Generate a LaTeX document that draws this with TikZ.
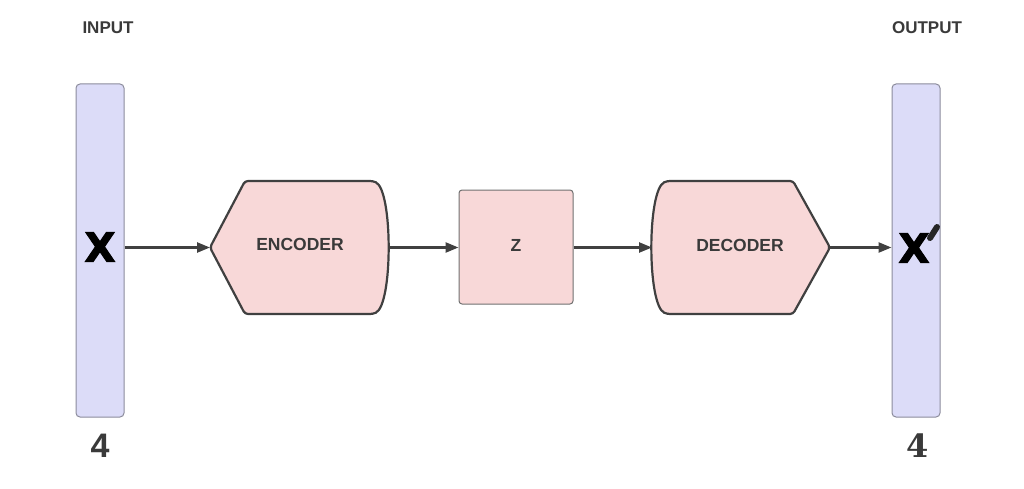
\documentclass[tikz,border=0pt]{standalone}
\usepackage{fontspec}
\setmainfont{Liberation Sans}
\newfontfamily\heavyfont{DejaVu Sans}[BoldFeatures={FakeBold=2.5}]
\newfontfamily\numfont{Liberation Sans}
\newfontfamily\slabfont{DejaVu Serif}
\usetikzlibrary{arrows.meta}
\definecolor{barfill}{HTML}{DCDCF8}
\definecolor{barline}{HTML}{8C8C9C}
\definecolor{boxfill}{HTML}{F8D8D8}
\definecolor{boxline}{HTML}{404040}
\definecolor{zline}{HTML}{707070}
\definecolor{txt}{HTML}{3A3A3A}
\definecolor{arr}{HTML}{404040}
\tikzset{
  bar/.style={draw=barline, fill=barfill, line width=1pt, rounded corners=4pt,
    minimum width=48pt, minimum height=333pt, inner sep=0pt},
  blockshape/.style={draw=boxline, fill=boxfill, line width=2.2pt, rounded corners=3pt},
  lbl/.style={font=\bfseries\fontsize{17.5}{20}\selectfont, text=txt, inner sep=0pt},
  biglbl/.style={font=\heavyfont\bfseries\fontsize{40}{44}\selectfont, text=black, inner sep=0pt},
  numlbl/.style={font=\numfont\bfseries\fontsize{34}{38}\selectfont, text=txt, inner sep=0pt},
  conn/.style={draw=arr, line width=2.4pt, -{Triangle[length=13pt,width=10pt]}},
}
\begin{document}
\begin{tikzpicture}[x=1pt,y=-1pt]
\useasboundingbox (0,0) rectangle (1024,489);
% bars
\node[bar] (inbar) at (100,250.5) {};
\node[bar] (outbar) at (916,250.5) {};
\node[lbl, font=\bfseries\fontsize{17}{20}\selectfont] (inlbl) at (108,28) {INPUT};
\node[lbl, font=\bfseries\fontsize{17}{20}\selectfont] (outlbl) at (927,28) {OUTPUT};
\node[biglbl] (x) at (100,247) {X};
\node[biglbl] (xp) at (914,248) {X};
\coordinate (primetop) at (937,227);
\coordinate (primebot) at (930,238);
\draw[line width=6pt, line cap=round, draw=black!85] (primetop) -- (primebot);
\node[numlbl] (n1) at (100,446) {4};
\node[numlbl, font=\slabfont\bfseries\fontsize{32}{36}\selectfont] (n2) at (918,446) {4};
% encoder
\path[blockshape] (300,181) -- (373,181) .. controls (393,190) and (393,305) .. (373,314)
  -- (245,314) -- (210,247.5) -- (245,181) -- cycle;
\coordinate (enctip) at (210,247.5);
\coordinate (encout) at (388,247.5);
\node[lbl] (enc) at (300,244) {ENCODER};
% z
\node[draw=zline, fill=boxfill, line width=1pt, rounded corners=3pt,
  minimum width=114pt, minimum height=114pt, inner sep=0pt] (zbox) at (516,247) {};
\node[lbl] (z) at (516,245) {Z};
% decoder
\path[blockshape] (730,181) -- (793,181) -- (830,247.5) -- (793,314) -- (667,314)
  .. controls (647,305) and (647,190) .. (667,181) -- cycle;
\coordinate (decin) at (652,247.5);
\coordinate (dectip) at (830,247.5);
\node[lbl] (dec) at (740,245) {DECODER};
% connectors
\draw[conn] (inbar.east |- enctip) -- (enctip);
\draw[conn] (encout) -- (zbox.west |- encout);
\draw[conn] (zbox.east |- decin) -- (decin);
\draw[conn] (dectip) -- (outbar.west |- dectip);
\end{tikzpicture}
\end{document}
